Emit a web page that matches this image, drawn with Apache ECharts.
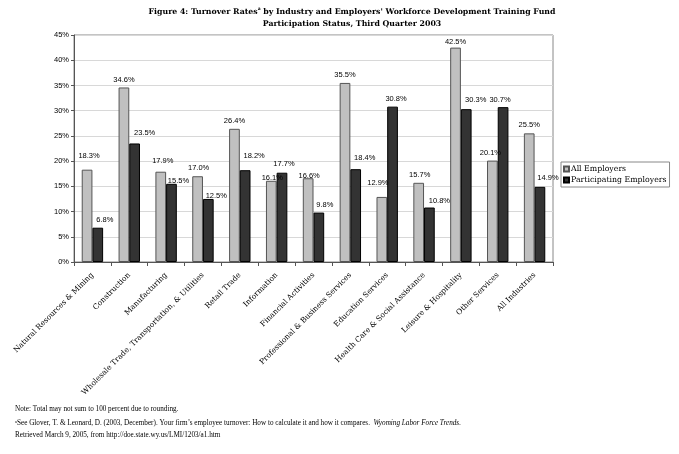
<!DOCTYPE html>
<html><head><meta charset="utf-8">
<script src="https://cdn.jsdelivr.net/npm/echarts@6/dist/echarts.min.js"></script>
<style>html,body{margin:0;padding:0;background:#fff}#c{width:679px;height:454px}</style>
</head><body><div id="c"></div>
<script>
const categories = ["Natural Resources & Mining","Construction","Manufacturing","Wholesale Trade, Transportation, & Utilities","Retail Trade","Information","Financial Activities","Professional & Business Services","Education Services","Health Care & Social Assistance","Leisure & Hospitality","Other Services","All Industries"];
const allEmployers = [18.3,34.6,17.9,17.0,26.4,16.1,16.6,35.5,12.9,15.7,42.5,20.1,25.5];
const participating = [6.8,23.5,15.5,12.5,18.2,17.7,9.8,18.4,30.8,10.8,30.3,30.7,14.9];
const yTicks = [0,5,10,15,20,25,30,35,40,45];
// label nudges (style only, px)
const allLabelNudge = [[2,-6],[0,0],[2,-3],[1,0],[0,0],[1,5.5],[1,6],[0,0],[-4,-6],[1,0],[0,2],[-2,0],[0,0]];
const partLabelNudge = [[7,0],[10,-3],[7,5.5],[8,4.5],[9,-6.5],[2,-1],[6,0],[9,-3.5],[3.5,0],[10,1],[9.5,-1],[-3,0.5],[8,-1]];

const chart = echarts.init(document.getElementById('c'), null, {renderer:'canvas'});
const serif = 'DejaVu Serif';
const sans = 'Liberation Sans';
const fmt = p => p.value.toFixed(1) + '%';
const withNudge = (vals, nudges) => vals.map((v,i) => ({value:v, label:{offset:nudges[i]}}));
chart.setOption({
  animation:false,
  title:{
    text:'Figure 4: Turnover Rates{sup|a} by Industry and Employers\' Workforce Development Training Fund\nParticipation Status, Third Quarter 2003',
    left:347, top:1, textAlign:'center',
    textStyle:{fontFamily:serif,fontWeight:'bold',fontSize:7.8,color:'#000',lineHeight:11.7,
      rich:{sup:{fontFamily:serif,fontSize:4.5,fontWeight:'bold',verticalAlign:'top',padding:[0,0,4,0]}}}
  },
  legend:{
    orient:'vertical', left:561, top:162, width:107,
    backgroundColor:'#fff', borderColor:'#888', borderWidth:1, padding:[3,3,3,2],
    itemWidth:5, itemHeight:5, itemGap:3, icon:'rect',
    textStyle:{fontFamily:serif,fontSize:7.8,color:'#000',padding:[0,0,0,-3]},
    data:['All Employers','Participating Employers']
  },
  grid:{left:74,right:126,top:35,bottom:192,show:true,borderColor:'#888',borderWidth:1},
  xAxis:{
    type:'category', data:categories,
    axisLine:{lineStyle:{color:'#555'}},
    axisTick:{show:true,length:4,lineStyle:{color:'#555'}},
    axisLabel:{rotate:45,fontFamily:serif,fontSize:7.5,color:'#000',margin:12,interval:0}
  },
  yAxis:{
    type:'value', min:yTicks[0], max:yTicks[yTicks.length-1], interval:yTicks[1]-yTicks[0],
    axisLine:{show:true,lineStyle:{color:'#555'}},
    axisTick:{show:true,length:3,lineStyle:{color:'#555'}},
    splitLine:{lineStyle:{color:'#d8d8d8'}},
    axisLabel:{fontFamily:sans,fontSize:7.5,color:'#000',margin:5,formatter:v=>v+'%'}
  },
  series:[
    {name:'All Employers',type:'bar',data:withNudge(allEmployers,allLabelNudge),barWidth:10.7,barGap:'0%',
     itemStyle:{color:'#c0c0c0',borderColor:'#555',borderWidth:1},
     label:{show:true,position:'top',distance:4,fontFamily:sans,fontSize:7.5,color:'#000',formatter:fmt}},
    {name:'Participating Employers',type:'bar',data:withNudge(participating,partLabelNudge),barWidth:10.7,
     itemStyle:{color:'#333333',borderColor:'#000',borderWidth:1},
     label:{show:true,position:'top',distance:4,fontFamily:sans,fontSize:7.5,color:'#000',formatter:fmt}}
  ],
  graphic:[
    {type:'text',left:15,top:406,style:{text:'Note: Total may not sum to 100 percent due to rounding.',fontFamily:'Liberation Serif',fontSize:7.2,fill:'#000'}},
    {type:'text',left:15,top:419,style:{text:'{s|a}See Glover, T. & Leonard, D. (2003, December). Your firm\u2019s employee turnover: How to calculate it and how it compares.  {i|Wyoming Labor Force Trends.}',fontFamily:'Liberation Serif',fontSize:7.2,fill:'#000',
      rich:{s:{fontFamily:'Liberation Serif',fontSize:4.5,verticalAlign:'top',padding:[0,0,4,0]},i:{fontFamily:'Liberation Serif',fontSize:7.2,fontStyle:'italic'}}}},
    {type:'text',left:15,top:432,style:{text:'Retrieved March 9, 2005, from http://doe.state.wy.us/LMI/1203/a1.htm',fontFamily:'Liberation Serif',fontSize:7.2,fill:'#000'}}
  ]
});
</script></body></html>
